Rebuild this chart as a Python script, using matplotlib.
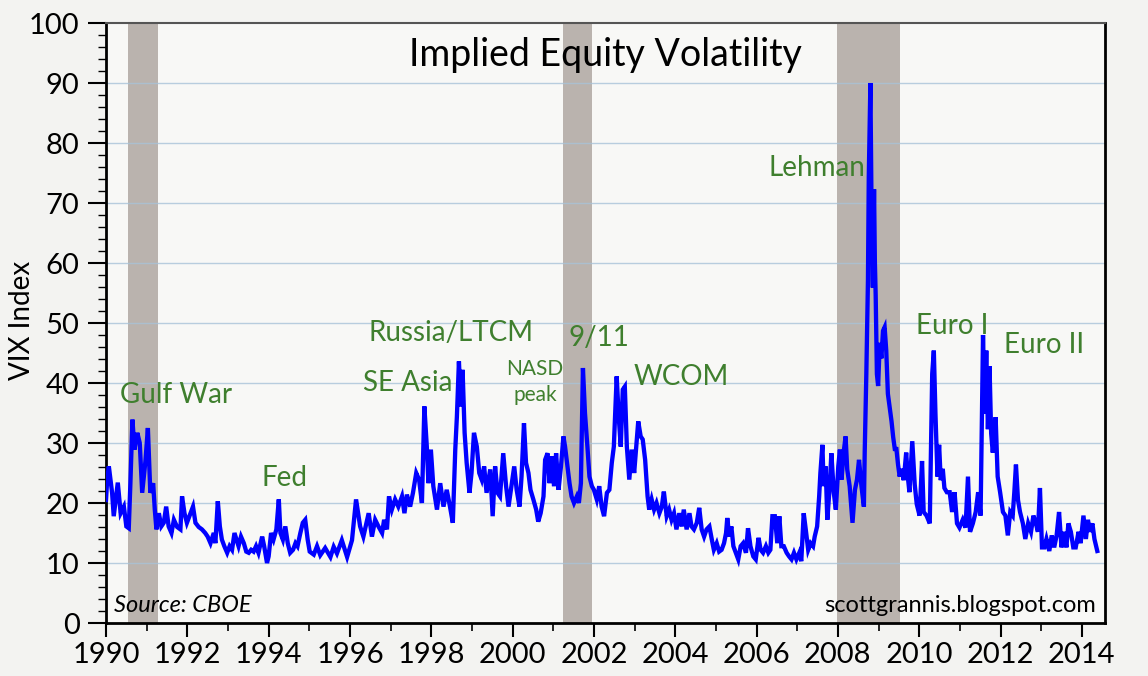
import matplotlib
matplotlib.use("Agg")
import matplotlib.pyplot as plt
from matplotlib.ticker import MultipleLocator

# --- VIX readings (decimal year, index level) ---
t_early = [1990.00, 1990.03, 1990.07, 1990.15, 1990.19, 1990.29, 1990.36, 1990.44, 1990.50, 1990.56,
           1990.60, 1990.65, 1990.70, 1990.77, 1990.83, 1990.89, 1990.97, 1991.03, 1991.09, 1991.16,
           1991.20, 1991.24, 1991.30, 1991.36, 1991.42, 1991.48, 1991.54, 1991.61, 1991.67, 1991.75,
           1991.83, 1991.87, 1991.93, 1991.99, 1992.08, 1992.14, 1992.20, 1992.28, 1992.36, 1992.44,
           1992.50, 1992.57, 1992.65, 1992.69, 1992.75, 1992.80, 1992.85, 1992.91, 1992.98, 1993.04,
           1993.10, 1993.16, 1993.21, 1993.26, 1993.32, 1993.39, 1993.45, 1993.51, 1993.57, 1993.63,
           1993.69, 1993.75, 1993.84, 1993.89, 1993.96, 1994.00, 1994.06, 1994.12, 1994.19, 1994.25,
           1994.29, 1994.35, 1994.41, 1994.47, 1994.53, 1994.60, 1994.66, 1994.71, 1994.78, 1994.84,
           1994.90, 1994.96, 1995.01, 1995.11, 1995.19, 1995.27, 1995.39, 1995.52, 1995.60, 1995.68,
           1995.80, 1995.93, 1996.05]
v_early = [20.5, 24.0, 26.1, 21.7, 17.8, 23.4, 18.3, 19.4, 16.1, 15.8,
           23.3, 33.9, 28.9, 31.7, 30.0, 21.7, 27.0, 32.5, 21.7, 23.3,
           18.9, 15.6, 18.3, 16.1, 16.7, 19.4, 16.1, 15.0, 17.2, 16.0,
           15.6, 21.1, 18.3, 16.7, 18.3, 19.4, 16.7, 16.0, 15.6, 15.0,
           14.4, 13.3, 15.0, 13.3, 20.3, 16.1, 13.9, 12.8, 11.7, 12.8,
           12.2, 15.0, 13.9, 12.8, 14.4, 13.3, 11.9, 11.7, 12.2, 11.9,
           12.8, 11.7, 14.4, 12.8, 10.0, 11.1, 15.0, 13.9, 15.6, 20.6,
           15.0, 13.9, 16.1, 13.3, 11.7, 12.2, 13.3, 12.8, 15.0, 16.7,
           17.2, 13.9, 11.9, 11.4, 12.8, 11.3, 12.5, 11.0, 12.7, 11.6,
           13.8, 11.0, 13.8]

t_late90s = [1996.15, 1996.25, 1996.33, 1996.46, 1996.54, 1996.62, 1996.70, 1996.79, 1996.84, 1996.91,
             1996.96, 1997.03, 1997.11, 1997.19, 1997.28, 1997.34, 1997.40, 1997.48, 1997.55, 1997.63,
             1997.70, 1997.77, 1997.83, 1997.89, 1997.93, 1997.99, 1998.05, 1998.14, 1998.22, 1998.30,
             1998.38, 1998.46, 1998.53, 1998.59, 1998.63, 1998.68, 1998.73, 1998.77, 1998.82, 1998.87,
             1998.94, 1998.99, 1999.05, 1999.12, 1999.18, 1999.24, 1999.30, 1999.36, 1999.45, 1999.51,
             1999.57, 1999.63, 1999.69, 1999.77, 1999.84, 1999.90, 1999.98]
v_late90s = [20.6, 16.1, 14.4, 18.3, 14.4, 17.2, 16.1, 15.0, 17.2, 15.6,
             21.1, 18.9, 20.6, 19.4, 21.1, 18.3, 21.4, 19.4, 21.7, 25.0,
             23.9, 20.0, 36.1, 29.4, 23.3, 28.9, 22.8, 18.9, 23.3, 19.4,
             22.2, 19.4, 16.7, 28.9, 34.4, 43.6, 36.1, 42.2, 31.7, 26.7,
             21.7, 25.0, 31.7, 29.4, 25.0, 23.9, 26.1, 21.7, 25.6, 17.8,
             26.1, 21.7, 21.1, 28.3, 22.8, 19.4, 23.3]

t_2000s = [2000.04, 2000.10, 2000.17, 2000.22, 2000.28, 2000.33, 2000.39, 2000.44, 2000.51, 2000.58,
           2000.63, 2000.69, 2000.76, 2000.80, 2000.86, 2000.91, 2000.96, 2001.02, 2001.07, 2001.13,
           2001.19, 2001.25, 2001.29, 2001.35, 2001.40, 2001.45, 2001.51, 2001.58, 2001.63, 2001.68,
           2001.73, 2001.78, 2001.84, 2001.89, 2001.95, 2002.00, 2002.07, 2002.13, 2002.19, 2002.25,
           2002.32, 2002.38, 2002.44, 2002.49, 2002.56, 2002.61, 2002.66, 2002.71, 2002.76, 2002.81,
           2002.87, 2002.93, 2002.99, 2003.04, 2003.09, 2003.15, 2003.20, 2003.26, 2003.32, 2003.36,
           2003.42, 2003.48, 2003.54, 2003.61, 2003.67, 2003.72, 2003.79, 2003.85, 2003.91, 2003.97,
           2004.03, 2004.10, 2004.16, 2004.21, 2004.28, 2004.35, 2004.40, 2004.46, 2004.53, 2004.59,
           2004.65, 2004.71, 2004.77, 2004.84, 2004.90, 2004.95, 2005.02, 2005.08]
v_2000s = [26.1, 22.2, 19.4, 24.4, 33.3, 26.7, 25.0, 22.2, 20.6, 18.9,
           16.9, 18.3, 21.1, 27.2, 28.3, 23.3, 27.8, 22.8, 28.3, 22.2,
           26.1, 31.1, 29.4, 26.1, 23.3, 21.1, 20.0, 21.1, 20.0, 23.3,
           42.5, 35.0, 29.4, 24.4, 22.8, 22.2, 20.6, 22.8, 19.4, 17.8,
           21.7, 22.2, 26.7, 29.4, 41.1, 34.4, 29.4, 38.9, 39.4, 29.4,
           23.9, 28.9, 25.0, 29.4, 33.6, 31.1, 30.6, 27.2, 21.1, 18.9,
           20.6, 18.9, 20.0, 18.3, 19.4, 21.9, 17.8, 18.9, 17.2, 18.3,
           15.6, 18.3, 16.1, 18.9, 15.6, 18.3, 16.1, 15.6, 16.7, 19.2,
           15.6, 14.4, 15.6, 16.1, 13.9, 12.2, 13.3, 11.9]

t_mid = [2005.14, 2005.20, 2005.25, 2005.28, 2005.33, 2005.38, 2005.43, 2005.49, 2005.55, 2005.61,
         2005.67, 2005.74, 2005.79, 2005.85, 2005.92, 2005.98, 2006.05, 2006.10, 2006.16, 2006.23,
         2006.29, 2006.34, 2006.39, 2006.45, 2006.51, 2006.56, 2006.61, 2006.67, 2006.74, 2006.80,
         2006.86, 2006.92, 2006.98, 2007.05, 2007.10, 2007.16, 2007.21, 2007.27, 2007.33, 2007.39,
         2007.43, 2007.49, 2007.54, 2007.57, 2007.62, 2007.65, 2007.70, 2007.74, 2007.80, 2007.84,
         2007.90, 2007.95, 2008.01, 2008.05, 2008.09, 2008.14, 2008.19, 2008.23, 2008.29, 2008.36,
         2008.42, 2008.47, 2008.52, 2008.58, 2008.64]
v_mid = [12.2, 13.3, 15.0, 17.5, 14.4, 16.1, 12.8, 11.7, 10.6, 12.8,
         13.3, 11.7, 15.8, 12.8, 11.1, 10.6, 14.2, 12.2, 11.7, 12.8,
         11.7, 12.2, 17.8, 17.8, 13.3, 17.8, 12.8, 12.8, 11.7, 11.1,
         10.6, 11.7, 10.6, 11.7, 10.3, 18.3, 15.6, 12.2, 13.3, 12.8,
         14.4, 16.1, 21.1, 25.0, 29.7, 22.8, 26.1, 17.2, 22.8, 28.3,
         21.7, 18.9, 26.1, 28.9, 23.9, 28.3, 31.1, 25.6, 22.8, 16.7,
         22.2, 23.9, 27.2, 22.8, 19.4]

t_recent = [2008.66, 2008.70, 2008.74, 2008.76, 2008.80, 2008.83, 2008.86, 2008.89, 2008.91, 2008.93,
            2008.96, 2008.99, 2009.03, 2009.07, 2009.11, 2009.15, 2009.19, 2009.23, 2009.27, 2009.32,
            2009.36, 2009.40, 2009.44, 2009.48, 2009.52, 2009.56, 2009.62, 2009.68, 2009.72, 2009.76,
            2009.83, 2009.89, 2009.94, 2010.01, 2010.07, 2010.11, 2010.18, 2010.26, 2010.32, 2010.36,
            2010.40, 2010.45, 2010.49, 2010.53, 2010.58, 2010.62, 2010.68, 2010.75, 2010.81, 2010.87,
            2010.93, 2010.99, 2011.07, 2011.14, 2011.20, 2011.25, 2011.32, 2011.39, 2011.45, 2011.51,
            2011.57, 2011.61, 2011.65, 2011.69, 2011.73, 2011.77, 2011.81, 2011.88, 2011.93, 2011.99,
            2012.06, 2012.12, 2012.18, 2012.24, 2012.30, 2012.34, 2012.38, 2012.43, 2012.48, 2012.55,
            2012.61, 2012.68, 2012.75, 2012.81, 2012.87, 2012.92, 2012.97, 2013.02, 2013.08, 2013.13,
            2013.20, 2013.26, 2013.32, 2013.38, 2013.44, 2013.50, 2013.57, 2013.62, 2013.67, 2013.73,
            2013.79, 2013.85, 2013.92, 2013.97, 2014.04, 2014.10, 2014.15, 2014.20, 2014.26, 2014.31,
            2014.38]
v_recent = [28.4, 41.5, 57.2, 74.3, 90.0, 67.7, 55.9, 72.3, 60.3, 54.6,
            41.5, 39.5, 46.7, 44.1, 48.7, 49.3, 45.4, 38.2, 36.2, 33.6,
            31.0, 29.0, 29.0, 26.4, 24.4, 25.7, 23.8, 28.4, 24.4, 21.8,
            30.3, 23.1, 19.8, 17.9, 27.0, 18.5, 17.9, 16.6, 41.5, 45.4,
            34.9, 24.4, 29.7, 23.8, 25.7, 22.5, 21.8, 21.8, 18.5, 21.8,
            16.6, 15.9, 17.2, 15.9, 24.4, 15.2, 16.6, 18.5, 21.8, 17.9,
            48.0, 34.9, 45.4, 32.3, 42.8, 31.6, 28.4, 34.3, 24.4, 21.8,
            18.5, 17.9, 14.6, 18.5, 17.9, 21.8, 26.4, 20.5, 18.5, 16.6,
            14.0, 16.6, 15.2, 17.9, 16.6, 15.2, 22.5, 12.6, 12.6, 14.0,
            12.0, 14.6, 12.6, 14.6, 18.5, 12.6, 15.2, 12.6, 16.6, 15.2,
            12.6, 12.6, 15.2, 13.3, 17.9, 14.0, 17.2, 15.2, 16.6, 14.0,
            12.0]

# recessions (start, end)
rec_start = [1990.55, 2001.25, 2007.97]
rec_end = [1991.29, 2001.96, 2009.53]

# event labels
ann_text = ["Gulf War", "Fed", "SE Asia", "Russia/LTCM", "9/11", "WCOM", "Lehman", "Euro I", "Euro II"]
ann_x = [1991.73, 1994.39, 1997.42, 1998.48, 2002.12, 2004.14, 2007.48, 2010.82, 2013.06]
ann_y = [38.0, 24.2, 40.0, 48.3, 47.5, 41.0, 75.8, 49.5, 46.3]

years = t_early + t_late90s + t_2000s + t_mid + t_recent
vix = v_early + v_late90s + v_2000s + v_mid + v_recent

plt.rcParams['font.family'] = ['Lato', 'DejaVu Sans']
GREEN = '#3f7f2e'

fig = plt.figure(figsize=(11.48, 6.76), dpi=100, facecolor='#f3f3f1')
ax = fig.add_axes([106 / 1148, 1 - 623 / 676, 999 / 1148, 600 / 676])
ax.set_facecolor('#f8f8f6')

for s, e in zip(rec_start, rec_end):
    ax.axvspan(s, e, color='#bab3ae', lw=0, zorder=1)

for g in range(10, 100, 10):
    ax.axhline(g, color='#a8c3d8', lw=1, alpha=0.8, zorder=1.5)

ax.plot(years, vix, color='#0000ff', lw=3.1, solid_joinstyle='miter', zorder=3)

ax.set_xlim(1990, 2014.57)
ax.set_ylim(0, 100)
ax.xaxis.set_major_locator(MultipleLocator(2))
ax.xaxis.set_minor_locator(MultipleLocator(1))
ax.yaxis.set_major_locator(MultipleLocator(10))
ax.yaxis.set_minor_locator(MultipleLocator(2))
ax.xaxis.set_major_formatter(matplotlib.ticker.FuncFormatter(lambda v, p: f"{int(round(v))}"))
ax.tick_params(axis='both', which='major', labelsize=21, direction='out', width=1.5, color='black')
ax.tick_params(axis='y', which='major', length=13, pad=6)
ax.tick_params(axis='x', which='major', length=10, pad=4)
ax.tick_params(axis='y', which='minor', length=6, width=1)
ax.tick_params(axis='x', which='minor', length=6, width=1.2)

for side in ['left', 'bottom', 'right']:
    ax.spines[side].set_linewidth(2)
    ax.spines[side].set_color('black')
ax.spines['top'].set_linewidth(1.5)
ax.spines['top'].set_color('#555555')

ax.set_ylabel("VIX Index", fontsize=20)
ax.yaxis.set_label_coords(-0.071, 0.505)

ax.text(0.5, 0.947, "Implied Equity Volatility", transform=ax.transAxes,
        ha='center', va='center', fontsize=27, zorder=5)

for txt, x, y in zip(ann_text, ann_x, ann_y):
    ax.text(x, y, txt, color=GREEN, fontsize=20, ha='center', va='center', zorder=5)
ax.text(2000.55, 40.2, "NASD\npeak", color=GREEN, fontsize=15, ha='center', va='center',
        linespacing=1.35, zorder=5)

ax.text(0.008, 0.03, "Source: CBOE", transform=ax.transAxes, fontsize=17, style='italic',
        ha='left', va='center', zorder=5)
ax.text(0.991, 0.03, "scottgrannis.blogspot.com", transform=ax.transAxes, fontsize=17,
        ha='right', va='center', zorder=5)

fig.savefig("out.png", dpi=100, facecolor=fig.get_facecolor())
